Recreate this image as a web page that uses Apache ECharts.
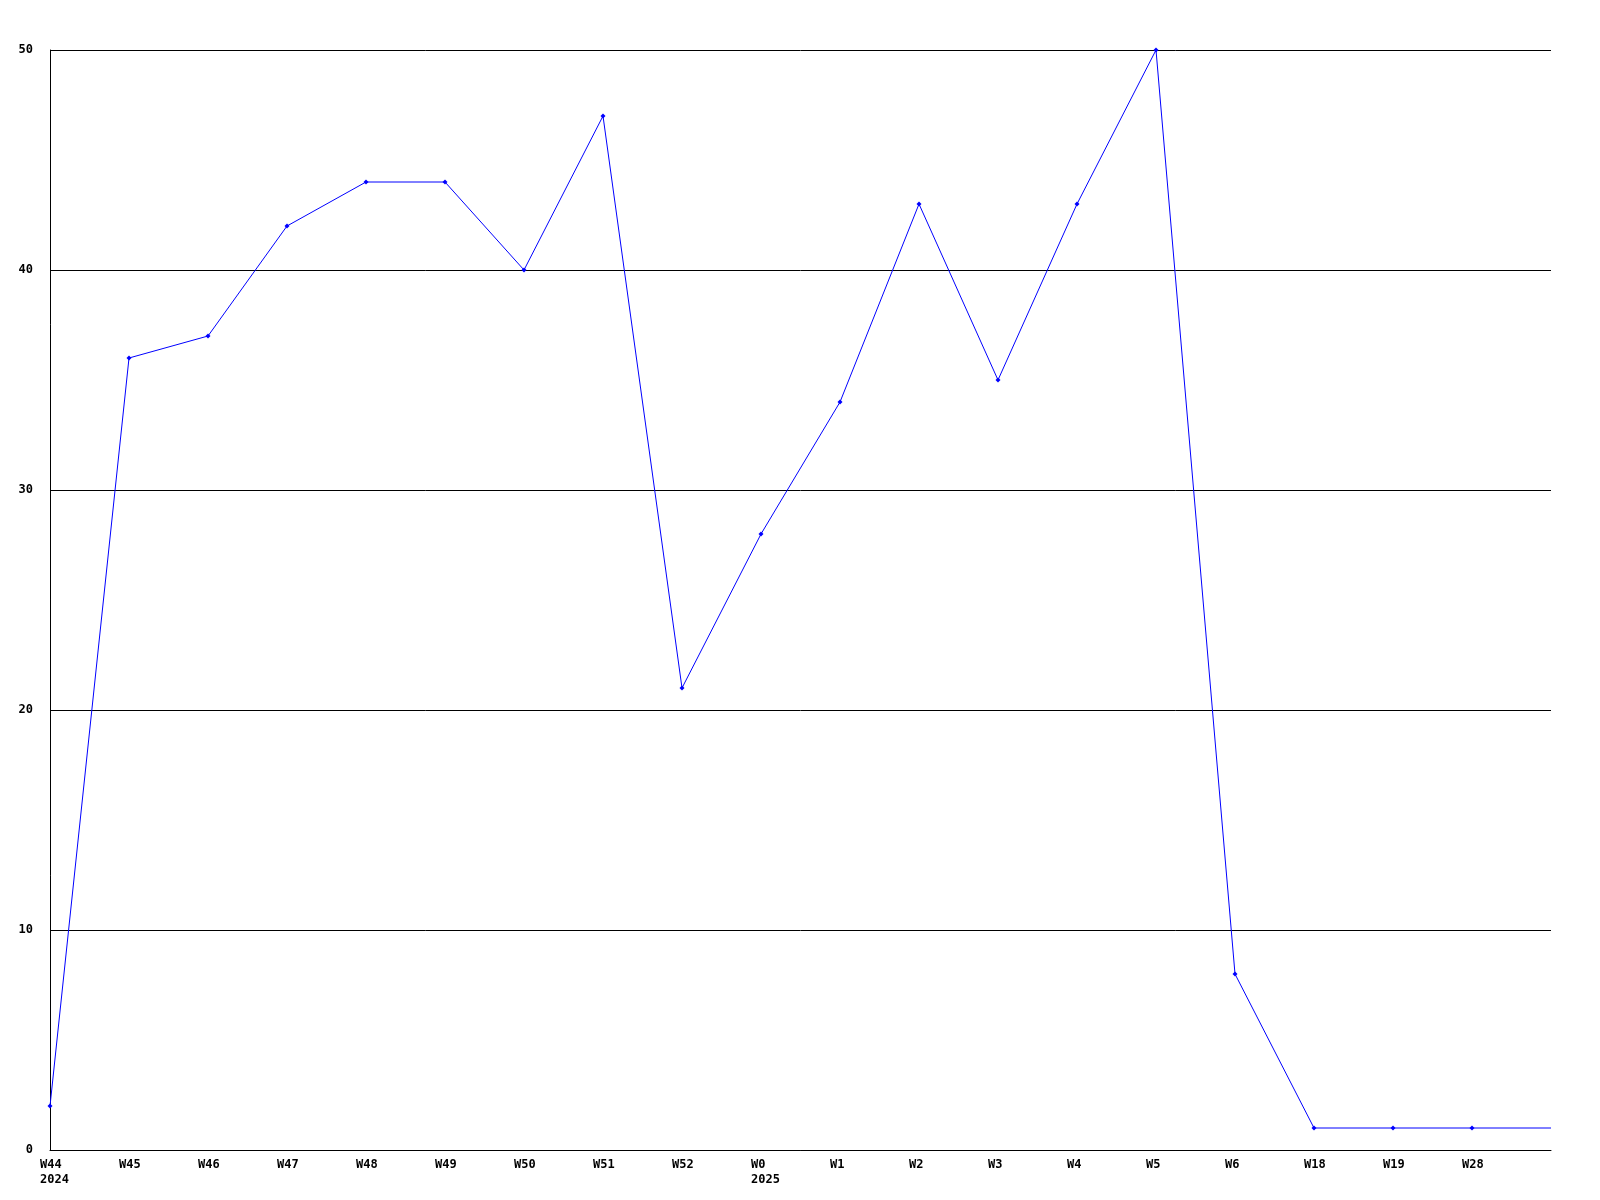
<!DOCTYPE html>
<html>
<head>
<meta charset="utf-8">
<script src="https://cdn.jsdelivr.net/npm/echarts@6/dist/echarts.min.js"></script>
<style>
  html, body { margin: 0; padding: 0; background: #fff; }
  #chart { width: 1600px; height: 1200px; }
</style>
</head>
<body>
<div id="chart"></div>
<script>
// week labels (year shown under first week of each year)
var weeks = ['W44\n2024', 'W45', 'W46', 'W47', 'W48', 'W49', 'W50', 'W51', 'W52',
  'W0\n2025', 'W1', 'W2', 'W3', 'W4', 'W5', 'W6', 'W18', 'W19', 'W28', ''];
var counts = [2, 36, 37, 42, 44, 44, 40, 47, 21, 28, 34, 43, 35, 43, 50, 8, 1, 1, 1, 1];
var yTicks = [0, 10, 20, 30, 40, 50];

var fontFam = '"DejaVu Sans Mono", monospace';

var lineData = counts.map(function (v, i) {
  // last point only carries the line to the edge, no marker
  if (weeks[i] === '') return { value: v, symbol: 'none' };
  return v;
});

var myChart = echarts.init(document.getElementById('chart'));
var option = {
  animation: false,
  backgroundColor: '#ffffff',
  grid: {
    left: 50,
    right: 49,
    top: 50,
    bottom: 50
  },
  xAxis: {
    type: 'category',
    data: weeks,
    boundaryGap: false,
    axisLine: { lineStyle: { color: '#000', width: 1 } },
    axisTick: { show: false },
    axisLabel: {
      interval: 0,
      color: '#000',
      margin: 7,
      align: 'center',
      formatter: function (val) {
        if (!val) return '';
        return val.split('\n').map(function (s) { return '{a|' + s + '}'; }).join('\n');
      },
      rich: {
        a: {
          width: 20,
          align: 'left',
          color: '#000',
          fontFamily: fontFam,
          fontWeight: 'bold',
          fontSize: 12,
          lineHeight: 15
        }
      }
    },
    splitLine: { show: false }
  },
  yAxis: {
    type: 'value',
    min: yTicks[0],
    max: yTicks[yTicks.length - 1],
    interval: 10,
    axisLine: { show: true, lineStyle: { color: '#000', width: 1 } },
    axisTick: { show: false },
    axisLabel: {
      color: '#000',
      fontFamily: fontFam,
      fontWeight: 'bold',
      fontSize: 12,
      margin: 17
    },
    splitLine: { show: true, lineStyle: { color: '#000', width: 1 } }
  },
  series: [
    {
      type: 'line',
      data: lineData,
      symbol: 'diamond',
      symbolSize: 5,
      showAllSymbol: true,
      lineStyle: { color: '#0000ff', width: 1 },
      itemStyle: { color: '#0000ff' }
    }
  ]
};
myChart.setOption(option);
</script>
</body>
</html>
